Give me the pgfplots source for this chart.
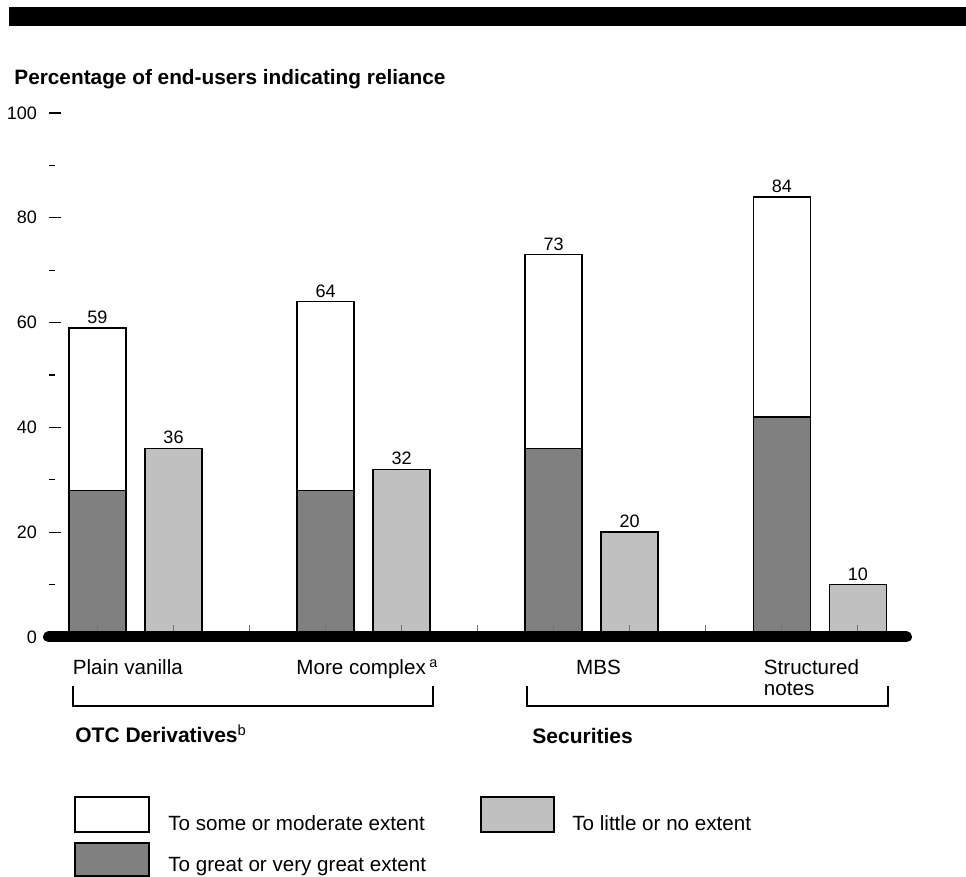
\documentclass[border=0pt]{standalone}
\usepackage{pgfplots}
\pgfplotsset{compat=1.18}
\usepackage{fontspec}
\setmainfont{Liberation Sans}
\definecolor{greatext}{HTML}{808080}
\definecolor{littleext}{HTML}{C0C0C0}

\begin{document}
\begin{tikzpicture}
\path[use as bounding box] (0,0) rectangle (483pt,-438.5pt);
\begin{axis}[
  at={(24.25pt,-318.5pt)}, anchor=south west,
  scale only axis, width=429pt, height=262pt,
  xmin=0.356, xmax=11.64, ymin=0, ymax=100,
  axis x line*=bottom, axis y line*=left,
  x axis line style={-, line width=5.5pt, line cap=round, black},
  y axis line style={draw=none},
  axis on top,
  tick align=inside,
  major tick length=6pt, minor tick length=3pt,
  ytick={0,20,...,100}, minor ytick={10,30,...,90},
  ytick style={black, line width=0.6pt},
  yticklabel style={font=\fontsize{9}{10}\selectfont, xshift=-2.25pt},
  /pgf/number format/assume math mode=true,
  xtick={1,...,11}, xticklabel=\empty,
  xtick style={black!55, line width=0.5pt},
  extra x ticks={1.40,4.55,7.59,10.39},
  extra x tick labels={Plain vanilla, More complex\,\textsuperscript{a}, MBS,
    {\begin{tabular}[t]{@{}l@{}}Structured\\notes\end{tabular}}},
  extra x tick style={major tick length=0pt,
    tick label style={font=\fontsize{10.3}{10.5}\selectfont, anchor=base, yshift=-19pt}},
  clip=false,
]
% to some or moderate extent (total height of the stacked column)
\addplot[ybar, bar width=0.75, bar shift=0pt, fill=white, draw=black, line width=0.75pt,
  nodes near coords,
  every node near coord/.append style={font=\fontsize{9}{10}\selectfont, inner sep=0pt, yshift=1.75pt}]
  coordinates {(1,59) (4,64) (7,73) (10,84)};
% to great or very great extent (lower part of the column)
\addplot[ybar, bar width=0.75, bar shift=0pt, fill=greatext, draw=black, line width=0.75pt]
  coordinates {(1,28) (4,28) (7,36) (10,42)};
% to little or no extent
\addplot[ybar, bar width=0.75, bar shift=0pt, fill=littleext, draw=black, line width=0.75pt,
  nodes near coords,
  every node near coord/.append style={font=\fontsize{9}{10}\selectfont, inner sep=0pt, yshift=1.75pt}]
  coordinates {(2,36) (5,32) (8,20) (11,10)};
\end{axis}

\begin{scope}[x=0.5pt, y=-0.5pt]
  \fill[black] (9,7) rectangle (966,26);
  \node[anchor=base west, inner sep=0pt, font=\bfseries\fontsize{10.4}{12}\selectfont]
    at (14,85) {Percentage of end-users indicating reliance};
  % group brackets
  \draw[line width=0.7pt] (73,686) -- (73,706) -- (433,706) -- (433,686);
  \draw[line width=0.7pt] (527,686) -- (527,706) -- (888,706) -- (888,686);
  \node[anchor=base west, inner sep=0pt, font=\bfseries\fontsize{10.5}{12}\selectfont]
    at (75,743) {OTC Derivatives\textsuperscript{\normalfont b}};
  \node[anchor=base west, inner sep=0pt, font=\bfseries\fontsize{10.5}{12}\selectfont]
    at (532,744) {Securities};
  % legend
  \draw[line width=0.75pt, fill=white] (75,797) rectangle (149,832);
  \draw[line width=0.75pt, fill=greatext] (75,843) rectangle (149,876);
  \draw[line width=0.75pt, fill=littleext] (481,797) rectangle (554,832);
  \node[anchor=base west, inner sep=0pt, font=\fontsize{10.3}{12}\selectfont]
    at (168,831) {To some or moderate extent};
  \node[anchor=base west, inner sep=0pt, font=\fontsize{10.3}{12}\selectfont]
    at (168,872) {To great or very great extent};
  \node[anchor=base west, inner sep=0pt, font=\fontsize{10.3}{12}\selectfont]
    at (572,831) {To little or no extent};
\end{scope}
\end{tikzpicture}
\end{document}
